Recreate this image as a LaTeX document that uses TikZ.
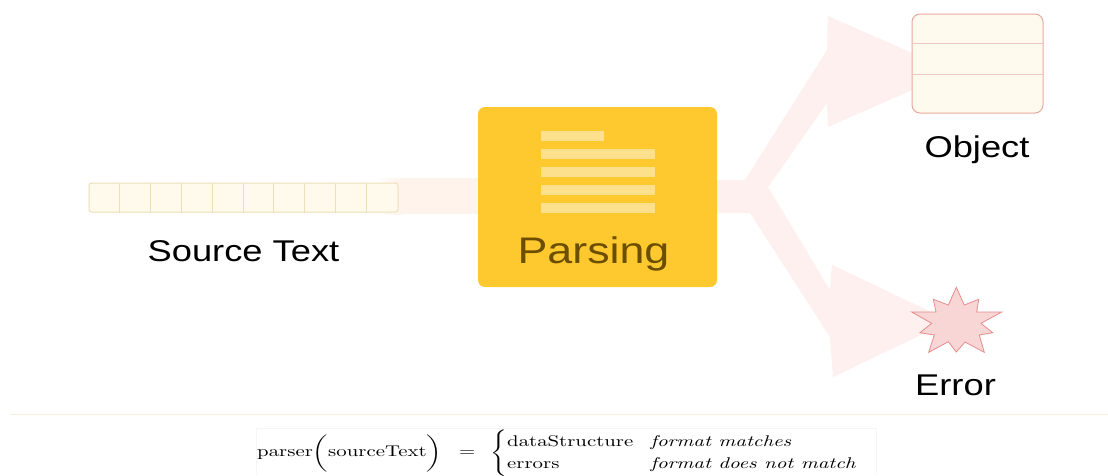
\documentclass[tikz,border=0pt]{standalone}
\usepackage{fontspec}
\usepackage{graphicx}
\usepackage{array}
\usetikzlibrary{calc}
\newfontfamily\lab{Liberation Sans}
\definecolor{arrowc}{HTML}{FEF0EE}
\definecolor{arrowl}{HTML}{FFF3EC}
\definecolor{parsefill}{HTML}{FEC92F}
\definecolor{parsebar}{HTML}{FDE08C}
\definecolor{parsetext}{HTML}{6B4E00}
\definecolor{srcfill}{HTML}{FFFAEC}
\definecolor{srcline}{HTML}{EFDFB8}
\definecolor{objfill}{HTML}{FFFAEE}
\definecolor{objline}{HTML}{E8A8A0}
\definecolor{objinner}{HTML}{EEC8C0}
\definecolor{starfill}{HTML}{F8D6D6}
\definecolor{starline}{HTML}{E88C8C}
\definecolor{rulec}{HTML}{FBEEDD}
\tikzset{
  lbl/.style={font=\lab\fontsize{30}{34}\selectfont,anchor=base,xscale=1.21,transform shape,inner sep=0pt,text=black},
  bar/.style={fill=parsebar,draw=none},
  flow/.style={fill=arrowc,draw=none}
}
\begin{document}
\begin{tikzpicture}[x=1pt,y=-1pt]
\useasboundingbox (0,0) rectangle (1108,475);
\fill[white] (0,0) rectangle (1108,475);
% block arrows
\shade[left color=white,right color=arrowl] (376,178) rectangle (402,214);
\fill[arrowl] (402,178) rectangle (480,214);
\path[flow] (715,180) -- (745,180) -- (827,50) -- (828,16) -- (954,71.5) -- (828,127) -- (827,103) -- (768,187)
  -- (830,290) -- (832,265) -- (950,321) -- (833,377) -- (830,337) -- (750,213) -- (715,213) -- cycle;
% source text
\node[draw=srcline,fill=srcfill,rounded corners=2.5pt,line width=1pt,minimum width=309pt,minimum height=29pt,inner sep=0pt] (src) at (243.5,197.5) {};
\foreach \i in {1,...,9}
  \draw[srcline,line width=0.9pt] ($(src.north west)+(\i*30.9,0)$) -- ($(src.south west)+(\i*30.9,0)$);
\node[lbl] (srclabel) at (243.5,261) {Source Text};
% parsing
\node[fill=parsefill,rounded corners=7pt,minimum width=239pt,minimum height=180pt,inner sep=0pt] (parse) at (597.5,197) {};
\fill[bar] (541,131) rectangle (604,141);
\foreach \y in {149,167,185,203}
  \fill[bar] (541,\y) rectangle (655,\y+10);
\node[lbl,font=\lab\fontsize{37}{42}\selectfont,text=parsetext] (parselabel) at (593.5,263) {Parsing};
% object
\node[draw=objline,fill=objfill,rounded corners=8pt,line width=1pt,minimum width=131pt,minimum height=99pt,inner sep=0pt] (obj) at (977.5,63.5) {};
\draw[objinner,line width=1pt] (obj.west |- 0,43) -- (obj.east |- 0,43);
\draw[objinner,line width=1pt] (obj.west |- 0,74) -- (obj.east |- 0,74);
\node[lbl] (objlabel) at (977,157) {Object};
% error star
\filldraw[fill=starfill,draw=starline,line width=0.8pt,line join=miter]
  (956.3,287.3) -- (964.3,305) -- (978.7,299.3) -- (976.7,312) -- (1001.7,312) -- (981,323.3) -- (992.7,332.7)
  -- (979.3,335) -- (984.3,352.3) -- (965,342) -- (956.3,352) -- (948.3,341.7) -- (928.7,352.3) -- (934.3,335)
  -- (920,332.7) -- (931.7,323.3) -- (911.7,312) -- (936,312) -- (933.3,299.3) -- (948.3,305) -- cycle;
\node[lbl] (errlabel) at (955.5,395) {Error};
% divider
\draw[rulec,line width=1pt] (10,414) -- (1108,414);
% formula
\draw[black!4,line width=0.8pt] (256,475) -- (256,428) -- (876,428) -- (876,475);
\node[inner sep=0pt,anchor=west] (formula) at (257,453) {\scalebox{2.08}[1.55]{%
  $\mbox{parser}\bigg(\mbox{sourceText}\bigg)\;\;=\;\,\left\{\renewcommand{\arraystretch}{1.2}\begin{array}{@{}l@{\;\;\;}l@{}}\mbox{dataStructure} & \mbox{\itshape format matches}\\ \mbox{errors} & \mbox{\itshape format does not match}\end{array}\right.$}};
\end{tikzpicture}
\end{document}
